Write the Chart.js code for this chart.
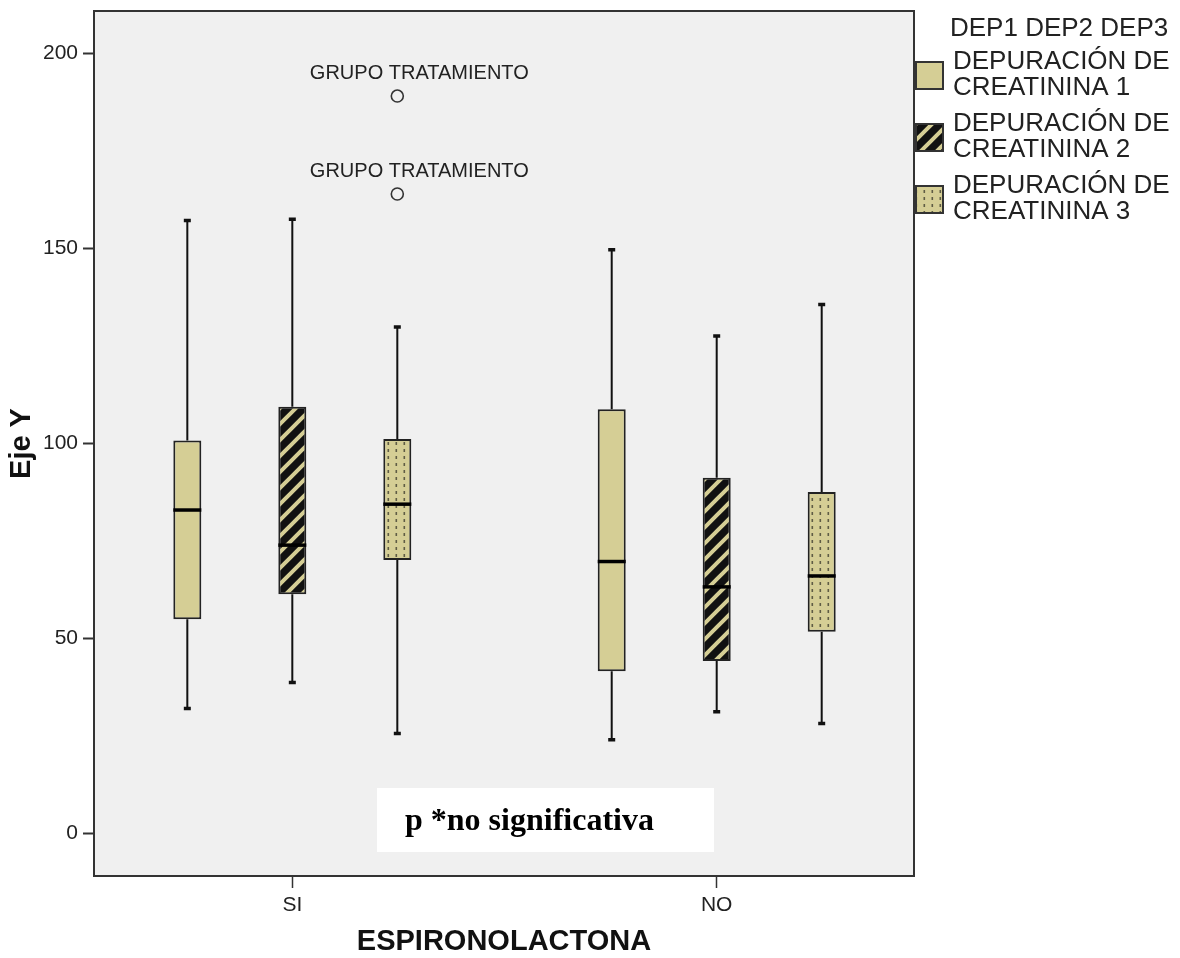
<!DOCTYPE html>
<html>
<head>
<meta charset="utf-8">
<script src="https://cdn.jsdelivr.net/npm/chart.js@4.4.0/dist/chart.umd.min.js"></script>
<style>
  html, body { margin: 0; padding: 0; background: #fff; }
  #wrap { width: 1180px; height: 958px; }
</style>
</head>
<body>
<div id="wrap"><canvas id="boxChart" width="1180" height="958"></canvas></div>
<script>
// categories on the x axis and the three series
const categories = ['SI', 'NO'];
const seriesNames = ['DEP1', 'DEP2', 'DEP3'];
const seriesLabels = [
    ['DEPURACIÓN DE', 'CREATININA 1'],
    ['DEPURACIÓN DE', 'CREATININA 2'],
    ['DEPURACIÓN DE', 'CREATININA 3']
];
const yTicks = [0, 50, 100, 150, 200];

// box stats per series, one value per category (SI, NO)
const dep1Min = [32.0, 24.0];
const dep1Q1 = [54.9, 41.6];
const dep1Median = [82.9, 69.7];
const dep1Q3 = [100.7, 108.7];
const dep1Max = [157.1, 149.6];

const dep2Min = [38.7, 31.2];
const dep2Q1 = [61.3, 44.2];
const dep2Median = [73.9, 63.2];
const dep2Q3 = [109.4, 91.2];
const dep2Max = [157.4, 127.5];

const dep3Min = [25.6, 28.2];
const dep3Q1 = [70.1, 51.7];
const dep3Median = [84.4, 66.0];
const dep3Q3 = [101.1, 87.5];
const dep3Max = [129.8, 135.6];

// outliers (only DEP3 in SI)
const outlierSeries = [2, 2];
const outlierCategory = [0, 0];
const outlierValues = [189.0, 163.9];
const outlierLabels = ['GRUPO TRATAMIENTO', 'GRUPO TRATAMIENTO'];

const SANS = "'Liberation Sans', Arial, Helvetica, sans-serif";
const SERIF = "'Liberation Serif', 'Times New Roman', serif";
const TAN = '#d5ce95';

function hatchPattern() {
    const c = document.createElement('canvas');
    c.width = 16; c.height = 16;
    const g = c.getContext('2d');
    g.fillStyle = '#111';
    g.fillRect(0, 0, 16, 16);
    g.strokeStyle = TAN;
    g.lineWidth = 4;
    g.beginPath();
    g.moveTo(-8, 8); g.lineTo(8, -8);
    g.moveTo(0, 16); g.lineTo(16, 0);
    g.moveTo(8, 24); g.lineTo(24, 8);
    g.stroke();
    return g.createPattern(c, 'repeat');
}

function dotPattern() {
    const c = document.createElement('canvas');
    c.width = 8; c.height = 7;
    const g = c.getContext('2d');
    g.fillStyle = TAN;
    g.fillRect(0, 0, 8, 7);
    g.fillStyle = '#5f5c45';
    g.fillRect(3.5, 1, 1.6, 3);
    return g.createPattern(c, 'repeat');
}

const fills = [TAN, hatchPattern(), dotPattern()];
const stats = [
    { min: dep1Min, q1: dep1Q1, med: dep1Median, q3: dep1Q3, max: dep1Max },
    { min: dep2Min, q1: dep2Q1, med: dep2Median, q3: dep2Q3, max: dep2Max },
    { min: dep3Min, q1: dep3Q1, med: dep3Median, q3: dep3Q3, max: dep3Max }
];

const datasets = stats.map((s, i) => ({
    label: seriesNames[i],
    data: categories.map((c, k) => ({ x: k + 1, y: [s.q1[k], s.q3[k]] })),
    backgroundColor: fills[i],
    borderColor: '#222',
    borderWidth: 2,
    borderSkipped: false,
    categoryPercentage: 0.7422,
    barPercentage: 0.2667
}));

// plot background + frame
const plotFrame = {
    id: 'plotFrame',
    beforeDraw(chart) {
        const { ctx, chartArea: a } = chart;
        ctx.save();
        ctx.fillStyle = '#f0f0f0';
        ctx.fillRect(a.left, a.top, a.right - a.left, a.bottom - a.top);
        ctx.restore();
    },
    afterDraw(chart) {
        const { ctx, chartArea: a } = chart;
        ctx.save();
        ctx.strokeStyle = '#333';
        ctx.lineWidth = 2;
        ctx.strokeRect(a.left, a.top, a.right - a.left, a.bottom - a.top);
        ctx.restore();
    }
};

// whiskers, medians and outliers, placed with the chart's own scales
const boxWhiskers = {
    id: 'boxWhiskers',
    afterDatasetsDraw(chart) {
        const { ctx } = chart;
        const y = chart.scales.y;
        ctx.save();
        stats.forEach((s, i) => {
            const meta = chart.getDatasetMeta(i);
            meta.data.forEach((bar, k) => {
                const { x, width } = bar.getProps(['x', 'width'], true);
                ctx.strokeStyle = '#111';
                ctx.lineWidth = 2;
                ctx.beginPath();
                ctx.moveTo(x, y.getPixelForValue(s.q3[k]));
                ctx.lineTo(x, y.getPixelForValue(s.max[k]));
                ctx.moveTo(x, y.getPixelForValue(s.q1[k]));
                ctx.lineTo(x, y.getPixelForValue(s.min[k]));
                ctx.stroke();
                // caps
                ctx.lineWidth = 3.5;
                ctx.beginPath();
                ctx.moveTo(x - 3.5, y.getPixelForValue(s.max[k]));
                ctx.lineTo(x + 3.5, y.getPixelForValue(s.max[k]));
                ctx.moveTo(x - 3.5, y.getPixelForValue(s.min[k]));
                ctx.lineTo(x + 3.5, y.getPixelForValue(s.min[k]));
                ctx.stroke();
                // median
                ctx.strokeStyle = '#000';
                ctx.lineWidth = 3.5;
                ctx.beginPath();
                ctx.moveTo(x - width / 2, y.getPixelForValue(s.med[k]));
                ctx.lineTo(x + width / 2, y.getPixelForValue(s.med[k]));
                ctx.stroke();
            });
        });
        outlierValues.forEach((v, j) => {
            const bar = chart.getDatasetMeta(outlierSeries[j]).data[outlierCategory[j]];
            const x = bar.getProps(['x'], true).x;
            const py = y.getPixelForValue(v);
            ctx.strokeStyle = '#333';
            ctx.lineWidth = 1.6;
            ctx.beginPath();
            ctx.arc(x, py, 6, 0, Math.PI * 2);
            ctx.stroke();
            ctx.fillStyle = '#222';
            ctx.font = '20px ' + SANS;
            ctx.textAlign = 'center';
            ctx.textBaseline = 'middle';
            ctx.fillText(outlierLabels[j], x + 22, py - 23);
        });
        ctx.restore();
    }
};

// legend on the right, with patterned swatches
const legendBox = {
    id: 'legendBox',
    afterDraw(chart) {
        const { ctx, chartArea: a } = chart;
        ctx.save();
        ctx.fillStyle = '#222';
        ctx.font = '26px ' + SANS;
        ctx.textAlign = 'left';
        ctx.textBaseline = 'middle';
        ctx.fillText(seriesNames.join(' '), a.right + 36, 29);
        seriesLabels.forEach((lines, i) => {
            const cy = 75 + i * 62;
            ctx.fillStyle = fills[i];
            ctx.fillRect(a.right + 2, cy - 13, 27, 27);
            ctx.strokeStyle = '#333';
            ctx.lineWidth = 2;
            ctx.strokeRect(a.right + 2, cy - 13, 27, 27);
            ctx.fillStyle = '#222';
            ctx.fillText(lines[0], a.right + 39, cy - 13);
            ctx.fillText(lines[1], a.right + 39, cy + 13);
        });
        ctx.restore();
    }
};

// white note box inside the plot
const noteBox = {
    id: 'noteBox',
    afterDatasetsDraw(chart) {
        const { ctx } = chart;
        ctx.save();
        ctx.fillStyle = '#fff';
        ctx.fillRect(377, 788, 337, 64);
        ctx.fillStyle = '#000';
        ctx.font = 'bold 32px ' + SERIF;
        ctx.textAlign = 'left';
        ctx.textBaseline = 'alphabetic';
        ctx.fillText('p *no significativa', 405, 830);
        ctx.restore();
    }
};

const ctx = document.getElementById('boxChart').getContext('2d');
new Chart(ctx, {
    type: 'bar',
    data: { datasets: datasets },
    options: {
        responsive: false,
        animation: false,
        devicePixelRatio: 1,
        layout: { padding: { top: 11, right: 266, left: 0, bottom: 0 } },
        plugins: {
            legend: { display: false },
            tooltip: { enabled: false }
        },
        scales: {
            x: {
                type: 'linear',
                min: 0.5327,
                max: 2.4649,
                offset: false,
                afterBuildTicks: s => { s.ticks = categories.map((c, k) => ({ value: k + 1 })); },
                afterFit: s => { s.height = 82; s.paddingLeft = 0; s.paddingRight = 0; },
                grid: { offset: false, drawOnChartArea: false, tickLength: 12, tickColor: '#333', tickWidth: 1.5 },
                border: { display: false },
                ticks: {
                    callback: v => categories[v - 1],
                    font: { family: SANS, size: 21 },
                    color: '#222',
                    padding: 5,
                    maxRotation: 0,
                    autoSkip: false
                },
                title: {
                    display: true,
                    text: 'ESPIRONOLACTONA',
                    color: '#111',
                    font: { family: SANS, size: 29, weight: 'bold', lineHeight: 1.1 },
                    padding: { top: 0, bottom: 0 }
                }
            },
            y: {
                min: -10.9,
                max: 210.8,
                afterBuildTicks: s => { s.ticks = yTicks.map(v => ({ value: v })); },
                afterFit: s => { s.width = 94; s.paddingTop = 0; s.paddingBottom = 0; },
                grid: { drawOnChartArea: false, tickLength: 11, tickColor: '#333', tickWidth: 2 },
                border: { display: false },
                ticks: {
                    font: { family: SANS, size: 21 },
                    color: '#222',
                    padding: 5
                },
                title: {
                    display: true,
                    text: 'Eje Y',
                    color: '#111',
                    font: { family: SANS, size: 29, weight: 'bold', lineHeight: 1.2 },
                    padding: { top: 5, bottom: 0 }
                }
            }
        }
    },
    plugins: [plotFrame, boxWhiskers, legendBox, noteBox]
});
</script>
</body>
</html>
